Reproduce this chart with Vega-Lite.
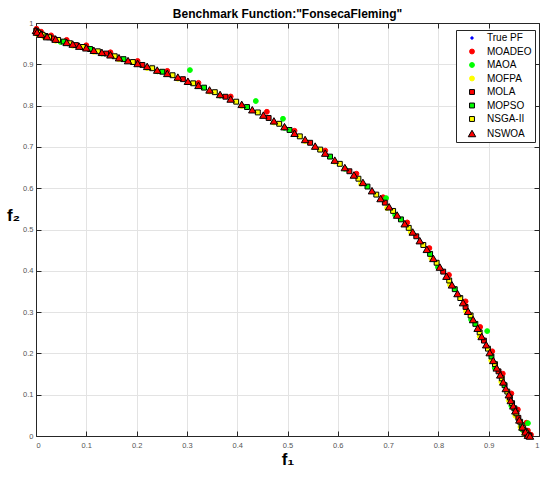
{
"$schema":"https://vega.github.io/schema/vega-lite/v6.json",
"width":503,"height":413,
"autosize":"none",
"padding":{"left":36,"top":23,"right":8,"bottom":41},
"background":"white",
"title":{"text":"Benchmark Function:\"FonsecaFleming\"","font":"Liberation Sans","fontSize":12,"fontWeight":"bold","color":"#000000","anchor":"middle","offset":4,"baseline":"alphabetic","dy":15},
"data":{"values":[
{"s":"True PF","x":0,"y":0.982},{"s":"True PF","x":0.002,"y":0.978},{"s":"True PF","x":0.010,"y":0.973},{"s":"True PF","x":0.022,"y":0.967},{"s":"True PF","x":0.039,"y":0.961},{"s":"True PF","x":0.061,"y":0.953},{"s":"True PF","x":0.086,"y":0.944},{"s":"True PF","x":0.115,"y":0.934},{"s":"True PF","x":0.148,"y":0.923},{"s":"True PF","x":0.183,"y":0.909},{"s":"True PF","x":0.221,"y":0.895},{"s":"True PF","x":0.261,"y":0.878},{"s":"True PF","x":0.302,"y":0.859},{"s":"True PF","x":0.345,"y":0.838},{"s":"True PF","x":0.387,"y":0.816},{"s":"True PF","x":0.430,"y":0.790},{"s":"True PF","x":0.473,"y":0.763},{"s":"True PF","x":0.514,"y":0.733},{"s":"True PF","x":0.555,"y":0.702},{"s":"True PF","x":0.594,"y":0.668},{"s":"True PF","x":0.632,"y":0.632},{"s":"True PF","x":0.668,"y":0.594},{"s":"True PF","x":0.702,"y":0.555},{"s":"True PF","x":0.733,"y":0.514},{"s":"True PF","x":0.763,"y":0.473},{"s":"True PF","x":0.790,"y":0.430},{"s":"True PF","x":0.816,"y":0.387},{"s":"True PF","x":0.838,"y":0.345},{"s":"True PF","x":0.859,"y":0.302},{"s":"True PF","x":0.878,"y":0.261},{"s":"True PF","x":0.895,"y":0.221},{"s":"True PF","x":0.909,"y":0.183},{"s":"True PF","x":0.923,"y":0.148},{"s":"True PF","x":0.934,"y":0.115},{"s":"True PF","x":0.944,"y":0.086},{"s":"True PF","x":0.953,"y":0.061},{"s":"True PF","x":0.961,"y":0.039},{"s":"True PF","x":0.967,"y":0.022},{"s":"True PF","x":0.973,"y":0.010},{"s":"True PF","x":0.978,"y":0.002},{"s":"True PF","x":0.982,"y":0},
{"s":"MOADEO","x":0.001,"y":0.986},{"s":"MOADEO","x":0.010,"y":0.979},{"s":"MOADEO","x":0.030,"y":0.970},{"s":"MOADEO","x":0.061,"y":0.959},{"s":"MOADEO","x":0.100,"y":0.946},{"s":"MOADEO","x":0.148,"y":0.929},{"s":"MOADEO","x":0.202,"y":0.908},{"s":"MOADEO","x":0.261,"y":0.884},{"s":"MOADEO","x":0.323,"y":0.855},{"s":"MOADEO","x":0.387,"y":0.822},{"s":"MOADEO","x":0.459,"y":0.785},{"s":"MOADEO","x":0.514,"y":0.739},{"s":"MOADEO","x":0.575,"y":0.691},{"s":"MOADEO","x":0.637,"y":0.635},{"s":"MOADEO","x":0.690,"y":0.578},{"s":"MOADEO","x":0.738,"y":0.517},{"s":"MOADEO","x":0.782,"y":0.455},{"s":"MOADEO","x":0.821,"y":0.390},{"s":"MOADEO","x":0.854,"y":0.326},{"s":"MOADEO","x":0.883,"y":0.264},{"s":"MOADEO","x":0.907,"y":0.205},{"s":"MOADEO","x":0.928,"y":0.151},{"s":"MOADEO","x":0.945,"y":0.103},{"s":"MOADEO","x":0.958,"y":0.064},{"s":"MOADEO","x":0.975,"y":0.032},{"s":"MOADEO","x":0.978,"y":0.013},{"s":"MOADEO","x":0.984,"y":0.003},
{"s":"MAOA","x":0.306,"y":0.886},{"s":"MAOA","x":0.437,"y":0.811},{"s":"MAOA","x":0.491,"y":0.768},{"s":"MAOA","x":0.696,"y":0.576},{"s":"MAOA","x":0.897,"y":0.254},{"s":"MAOA","x":0.978,"y":0.031},
{"s":"MAOA","x":0.006,"y":0.972},{"s":"MAOA","x":0.049,"y":0.954},{"s":"MAOA","x":0.131,"y":0.926},{"s":"MAOA","x":0.241,"y":0.883},{"s":"MAOA","x":0.366,"y":0.824},{"s":"MAOA","x":0.494,"y":0.746},{"s":"MAOA","x":0.614,"y":0.647},{"s":"MAOA","x":0.714,"y":0.535},{"s":"MAOA","x":0.799,"y":0.409},{"s":"MAOA","x":0.865,"y":0.282},{"s":"MAOA","x":0.912,"y":0.165},{"s":"MAOA","x":0.945,"y":0.073},{"s":"MAOA","x":0.966,"y":0.016},
{"s":"MOFPA","x":0.002,"y":0.974},{"s":"MOFPA","x":0.016,"y":0.966},{"s":"MOFPA","x":0.039,"y":0.957},{"s":"MOFPA","x":0.073,"y":0.945},{"s":"MOFPA","x":0.115,"y":0.930},{"s":"MOFPA","x":0.165,"y":0.912},{"s":"MOFPA","x":0.221,"y":0.891},{"s":"MOFPA","x":0.282,"y":0.865},{"s":"MOFPA","x":0.345,"y":0.834},{"s":"MOFPA","x":0.409,"y":0.799},{"s":"MOFPA","x":0.473,"y":0.759},{"s":"MOFPA","x":0.535,"y":0.714},{"s":"MOFPA","x":0.594,"y":0.664},{"s":"MOFPA","x":0.646,"y":0.611},{"s":"MOFPA","x":0.698,"y":0.552},{"s":"MOFPA","x":0.745,"y":0.494},{"s":"MOFPA","x":0.786,"y":0.430},{"s":"MOFPA","x":0.823,"y":0.366},{"s":"MOFPA","x":0.855,"y":0.302},{"s":"MOFPA","x":0.882,"y":0.241},{"s":"MOFPA","x":0.905,"y":0.183},{"s":"MOFPA","x":0.925,"y":0.131},{"s":"MOFPA","x":0.940,"y":0.086},{"s":"MOFPA","x":0.953,"y":0.049},{"s":"MOFPA","x":0.963,"y":0.022},{"s":"MOFPA","x":0.971,"y":0.006},
{"s":"MOLA","x":0.008,"y":0.974},{"s":"MOLA","x":0.0345,"y":0.9625},{"s":"MOLA","x":0.0795,"y":0.9465},{"s":"MOLA","x":0.1395,"y":0.926},{"s":"MOLA","x":0.2115,"y":0.8985},{"s":"MOLA","x":0.292,"y":0.864},{"s":"MOLA","x":0.3765,"y":0.8215},{"s":"MOLA","x":0.4625,"y":0.770},{"s":"MOLA","x":0.545,"y":0.710},{"s":"MOLA","x":0.623,"y":0.641},{"s":"MOLA","x":0.6935,"y":0.565},{"s":"MOLA","x":0.756,"y":0.4835},{"s":"MOLA","x":0.8095,"y":0.398},{"s":"MOLA","x":0.854,"y":0.3125},{"s":"MOLA","x":0.8905,"y":0.231},{"s":"MOLA","x":0.9195,"y":0.1565},{"s":"MOLA","x":0.942,"y":0.093},{"s":"MOLA","x":0.959,"y":0.044},{"s":"MOLA","x":0.9715,"y":0.013},{"s":"MOLA","x":0.981,"y":0.0005},
{"s":"MOPSO","x":0.0015,"y":0.979},{"s":"MOPSO","x":0.019,"y":0.9685},{"s":"MOPSO","x":0.055,"y":0.955},{"s":"MOPSO","x":0.1075,"y":0.937},{"s":"MOPSO","x":0.174,"y":0.9125},{"s":"MOPSO","x":0.251,"y":0.882},{"s":"MOPSO","x":0.334,"y":0.8435},{"s":"MOPSO","x":0.4195,"y":0.7965},{"s":"MOPSO","x":0.504,"y":0.741},{"s":"MOPSO","x":0.5845,"y":0.6765},{"s":"MOPSO","x":0.659,"y":0.604},{"s":"MOPSO","x":0.7255,"y":0.5245},{"s":"MOPSO","x":0.7835,"y":0.441},{"s":"MOPSO","x":0.8325,"y":0.3555},{"s":"MOPSO","x":0.8735,"y":0.2715},{"s":"MOPSO","x":0.9055,"y":0.1925},{"s":"MOPSO","x":0.9315,"y":0.123},{"s":"MOPSO","x":0.951,"y":0.067},{"s":"MOPSO","x":0.9655,"y":0.026},{"s":"MOPSO","x":0.9765,"y":0.004},
{"s":"NSGA-II","x":0.0005,"y":0.981},{"s":"NSGA-II","x":0.004,"y":0.9765},{"s":"NSGA-II","x":0.013,"y":0.9715},{"s":"NSGA-II","x":0.026,"y":0.9655},{"s":"NSGA-II","x":0.044,"y":0.959},{"s":"NSGA-II","x":0.067,"y":0.951},{"s":"NSGA-II","x":0.093,"y":0.942},{"s":"NSGA-II","x":0.123,"y":0.9315},{"s":"NSGA-II","x":0.1565,"y":0.9195},{"s":"NSGA-II","x":0.1925,"y":0.9055},{"s":"NSGA-II","x":0.231,"y":0.8905},{"s":"NSGA-II","x":0.2715,"y":0.8735},{"s":"NSGA-II","x":0.3125,"y":0.854},{"s":"NSGA-II","x":0.3555,"y":0.8325},{"s":"NSGA-II","x":0.398,"y":0.8095},{"s":"NSGA-II","x":0.441,"y":0.7835},{"s":"NSGA-II","x":0.4835,"y":0.756},{"s":"NSGA-II","x":0.5245,"y":0.7255},{"s":"NSGA-II","x":0.565,"y":0.6935},{"s":"NSGA-II","x":0.604,"y":0.659},{"s":"NSGA-II","x":0.641,"y":0.623},{"s":"NSGA-II","x":0.6765,"y":0.5845},{"s":"NSGA-II","x":0.710,"y":0.545},{"s":"NSGA-II","x":0.741,"y":0.504},{"s":"NSGA-II","x":0.770,"y":0.4625},{"s":"NSGA-II","x":0.7965,"y":0.4195},{"s":"NSGA-II","x":0.8215,"y":0.3765},{"s":"NSGA-II","x":0.8435,"y":0.334},{"s":"NSGA-II","x":0.864,"y":0.292},{"s":"NSGA-II","x":0.882,"y":0.251},{"s":"NSGA-II","x":0.8985,"y":0.2115},{"s":"NSGA-II","x":0.9125,"y":0.174},{"s":"NSGA-II","x":0.926,"y":0.1395},{"s":"NSGA-II","x":0.937,"y":0.1075},{"s":"NSGA-II","x":0.9465,"y":0.0795},{"s":"NSGA-II","x":0.955,"y":0.055},{"s":"NSGA-II","x":0.9625,"y":0.0345},{"s":"NSGA-II","x":0.9685,"y":0.019},{"s":"NSGA-II","x":0.974,"y":0.008},{"s":"NSGA-II","x":0.979,"y":0.0015},
{"s":"NSWOA","x":0,"y":0.982},{"s":"NSWOA","x":0.002,"y":0.978},{"s":"NSWOA","x":0.010,"y":0.973},{"s":"NSWOA","x":0.022,"y":0.967},{"s":"NSWOA","x":0.039,"y":0.961},{"s":"NSWOA","x":0.061,"y":0.953},{"s":"NSWOA","x":0.073,"y":0.949},{"s":"NSWOA","x":0.086,"y":0.944},{"s":"NSWOA","x":0.100,"y":0.940},{"s":"NSWOA","x":0.115,"y":0.934},{"s":"NSWOA","x":0.131,"y":0.929},{"s":"NSWOA","x":0.148,"y":0.923},{"s":"NSWOA","x":0.165,"y":0.916},{"s":"NSWOA","x":0.183,"y":0.909},{"s":"NSWOA","x":0.202,"y":0.902},{"s":"NSWOA","x":0.221,"y":0.895},{"s":"NSWOA","x":0.241,"y":0.886},{"s":"NSWOA","x":0.261,"y":0.878},{"s":"NSWOA","x":0.282,"y":0.869},{"s":"NSWOA","x":0.302,"y":0.859},{"s":"NSWOA","x":0.323,"y":0.849},{"s":"NSWOA","x":0.345,"y":0.838},{"s":"NSWOA","x":0.366,"y":0.827},{"s":"NSWOA","x":0.387,"y":0.816},{"s":"NSWOA","x":0.409,"y":0.803},{"s":"NSWOA","x":0.430,"y":0.790},{"s":"NSWOA","x":0.452,"y":0.777},{"s":"NSWOA","x":0.473,"y":0.763},{"s":"NSWOA","x":0.494,"y":0.749},{"s":"NSWOA","x":0.514,"y":0.733},{"s":"NSWOA","x":0.535,"y":0.718},{"s":"NSWOA","x":0.555,"y":0.702},{"s":"NSWOA","x":0.575,"y":0.685},{"s":"NSWOA","x":0.594,"y":0.668},{"s":"NSWOA","x":0.614,"y":0.650},{"s":"NSWOA","x":0.632,"y":0.632},{"s":"NSWOA","x":0.650,"y":0.614},{"s":"NSWOA","x":0.668,"y":0.594},{"s":"NSWOA","x":0.685,"y":0.575},{"s":"NSWOA","x":0.702,"y":0.555},{"s":"NSWOA","x":0.718,"y":0.535},{"s":"NSWOA","x":0.733,"y":0.514},{"s":"NSWOA","x":0.749,"y":0.494},{"s":"NSWOA","x":0.763,"y":0.473},{"s":"NSWOA","x":0.777,"y":0.452},{"s":"NSWOA","x":0.790,"y":0.430},{"s":"NSWOA","x":0.803,"y":0.409},{"s":"NSWOA","x":0.816,"y":0.387},{"s":"NSWOA","x":0.827,"y":0.366},{"s":"NSWOA","x":0.838,"y":0.345},{"s":"NSWOA","x":0.849,"y":0.323},{"s":"NSWOA","x":0.859,"y":0.302},{"s":"NSWOA","x":0.869,"y":0.282},{"s":"NSWOA","x":0.878,"y":0.261},{"s":"NSWOA","x":0.886,"y":0.241},{"s":"NSWOA","x":0.895,"y":0.221},{"s":"NSWOA","x":0.902,"y":0.202},{"s":"NSWOA","x":0.909,"y":0.183},{"s":"NSWOA","x":0.916,"y":0.165},{"s":"NSWOA","x":0.923,"y":0.148},{"s":"NSWOA","x":0.929,"y":0.131},{"s":"NSWOA","x":0.934,"y":0.115},{"s":"NSWOA","x":0.940,"y":0.100},{"s":"NSWOA","x":0.944,"y":0.086},{"s":"NSWOA","x":0.949,"y":0.073},{"s":"NSWOA","x":0.953,"y":0.061},{"s":"NSWOA","x":0.961,"y":0.039},{"s":"NSWOA","x":0.967,"y":0.022},{"s":"NSWOA","x":0.973,"y":0.010},{"s":"NSWOA","x":0.978,"y":0.002},{"s":"NSWOA","x":0.982,"y":0}
]},
"layer":[
{"mark":{"type":"point","filled":true,"opacity":1,"strokeWidth":1},
 "encoding":{
  "x":{"field":"x","type":"quantitative","scale":{"domain":[0,1],"nice":false,"zero":false},
       "axis":{"orient":"bottom","values":[0,0.1,0.2,0.3,0.4,0.5,0.6,0.7,0.8,0.9,1],"format":"~g","grid":true,"tickSize":-5,"labelPadding":10,"title":"f₁","titleFontSize":17,"titlePadding":3}},
  "y":{"field":"y","type":"quantitative","scale":{"domain":[0,1],"nice":false,"zero":false},
       "axis":{"orient":"left","values":[0,0.1,0.2,0.3,0.4,0.5,0.6,0.7,0.8,0.9,1],"format":"~g","grid":true,"tickSize":-5,"labelPadding":8,"title":"f₂","titleFontSize":17,"titleAngle":0,"titleX":-23,"titleY":192,"titleAlign":"center","titleBaseline":"middle"}},
  "fill":{"field":"s","type":"nominal","scale":{"domain":["True PF","MOADEO","MAOA","MOFPA","MOLA","MOPSO","NSGA-II","NSWOA"],"range":["#0000ff","#ff0000","#00ff00","#ffff00","#ff0000","#00ff00","#ffff00","#ff0000"]},"legend":{"title":null}},
  "stroke":{"field":"s","type":"nominal","scale":{"domain":["True PF","MOADEO","MAOA","MOFPA","MOLA","MOPSO","NSGA-II","NSWOA"],"range":["#0000ff","#ff0000","#00ff00","#ffff00","#000000","#000000","#000000","#000000"]},"legend":{"title":null}},
  "shape":{"field":"s","type":"nominal","scale":{"domain":["True PF","MOADEO","MAOA","MOFPA","MOLA","MOPSO","NSGA-II","NSWOA"],"range":["circle","circle","circle","circle","square","square","square","triangle-up"]},"legend":{"title":null}},
  "size":{"field":"s","type":"nominal","scale":{"type":"ordinal","domain":["True PF","MOADEO","MAOA","MOFPA","MOLA","MOPSO","NSGA-II","NSWOA"],"range":[6,24,24,24,24,24,24,56]},"legend":{"title":null}}
 }},
{"mark":{"type":"point","opacity":0},
 "encoding":{
  "x":{"field":"x","type":"quantitative","axis":{"orient":"top","values":[0,0.1,0.2,0.3,0.4,0.5,0.6,0.7,0.8,0.9,1],"labels":false,"grid":false,"tickSize":-5,"title":null}},
  "y":{"field":"y","type":"quantitative","axis":{"orient":"right","values":[0,0.1,0.2,0.3,0.4,0.5,0.6,0.7,0.8,0.9,1],"labels":false,"grid":false,"tickSize":-5,"title":null}}
 }}
],
"resolve":{"axis":{"x":"independent","y":"independent"}},
"config":{
 "view":{"stroke":"#262626","strokeWidth":1},
 "axis":{"domainColor":"#262626","tickColor":"#262626","gridColor":"#e3e3e3","gridWidth":1,"labelFont":"Liberation Sans","labelFontSize":7.5,"labelColor":"#555555","titleFont":"Liberation Sans","titleFontWeight":"bold","titleColor":"#000000"},
 "legend":{"orient":"none","legendX":420,"legendY":7,"padding":3,"strokeColor":"#262626","fillColor":"#ffffff","labelFont":"Liberation Sans","labelFontSize":10,"labelColor":"#000000","rowPadding":3.5,"symbolStrokeWidth":1,"symbolOffset":8,"labelOffset":10}
}
}
